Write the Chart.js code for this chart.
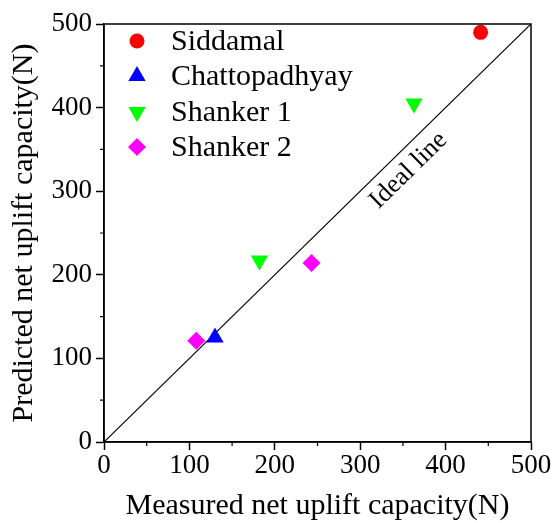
<!DOCTYPE html>
<html>
<head>
<meta charset="utf-8">
<script src="https://cdn.jsdelivr.net/npm/chart.js@4/dist/chart.umd.min.js"></script>
<style>
    html, body { margin: 0; padding: 0; background: #fff; }
    #wrap { width: 555px; height: 523px; }
</style>
</head>
<body>
<div id="wrap"><canvas id="capacityChart"></canvas></div>
<script>
// Measured vs predicted net uplift capacity (N)
const seriesNames = ['Siddamal', 'Chattopadhyay', 'Shanker 1', 'Shanker 2'];
const siddamalMeasured = [441];
const siddamalPredicted = [490];
const chattoMeasured = [130];
const chattoPredicted = [125];
const shanker1Measured = [182, 363];
const shanker1Predicted = [217, 405];
const shanker2Measured = [108, 243];
const shanker2Predicted = [121, 214];
const idealLine = [0, 500];
const axisTicks = [0, 100, 200, 300, 400, 500];

const SERIF = '"Liberation Serif", "Times New Roman", serif';

function toPoints(xs, ys) {
    return xs.map((x, i) => ({ x: x, y: ys[i] }));
}

// Minor ticks, top/right frame and the "Ideal line" label
const framePlugin = {
    id: 'frame',
    afterDraw(chart) {
        const { ctx, chartArea: a, scales: { x, y } } = chart;
        ctx.save();
        ctx.strokeStyle = '#000';
        ctx.lineWidth = 1.5;
        ctx.strokeRect(a.left, a.top, a.right - a.left, a.bottom - a.top);

        ctx.lineWidth = 1.2;
        ctx.beginPath();
        for (let v = 50; v < 500; v += 100) {
            const px = x.getPixelForValue(v);
            ctx.moveTo(px, a.bottom);
            ctx.lineTo(px, a.bottom + 4);
            const py = y.getPixelForValue(v);
            ctx.moveTo(a.left, py);
            ctx.lineTo(a.left - 4, py);
        }
        ctx.stroke();

        // label runs along the 1:1 line, just below it
        const lx = x.getPixelForValue(341);
        const ly = y.getPixelForValue(341);
        const ang = Math.atan2(y.getPixelForValue(500) - y.getPixelForValue(0),
                               x.getPixelForValue(500) - x.getPixelForValue(0));
        ctx.translate(lx, ly);
        ctx.rotate(ang);
        ctx.fillStyle = '#000';
        ctx.font = '26px ' + SERIF;
        ctx.textAlign = 'center';
        ctx.textBaseline = 'middle';
        ctx.fillText('Ideal line', 0, 19);
        ctx.restore();
    }
};

// Legend drawn inside the plot, top-left corner
const legendPlugin = {
    id: 'innerLegend',
    afterDraw(chart) {
        const { ctx } = chart;
        const rows = [41, 76, 112, 147];
        ctx.save();
        ctx.font = '30px ' + SERIF;
        ctx.textBaseline = 'middle';
        chart.data.datasets.forEach((ds, i) => {
            if (!seriesNames.includes(ds.label)) return;
            const yPos = rows[i];
            ctx.fillStyle = ds.backgroundColor;
            ctx.strokeStyle = ds.backgroundColor;
            Chart.helpers.drawPoint(ctx, {
                pointStyle: ds.pointStyle,
                rotation: ds.rotation || 0,
                radius: ds.pointRadius,
                borderWidth: 0
            }, 137, yPos);
            ctx.fillStyle = '#000';
            ctx.fillText(ds.label, 171, yPos + 1);
        });
        ctx.restore();
    }
};

const ctx = document.getElementById('capacityChart').getContext('2d');

new Chart(ctx, {
    type: 'scatter',
    data: {
        datasets: [{
            label: seriesNames[0],
            data: toPoints(siddamalMeasured, siddamalPredicted),
            pointStyle: 'circle',
            pointRadius: 7.5,
            backgroundColor: '#ff0000',
            borderWidth: 0
        }, {
            label: seriesNames[1],
            data: toPoints(chattoMeasured, chattoPredicted),
            pointStyle: 'triangle',
            pointRadius: 10,
            backgroundColor: '#0000ff',
            borderWidth: 0
        }, {
            label: seriesNames[2],
            data: toPoints(shanker1Measured, shanker1Predicted),
            pointStyle: 'triangle',
            rotation: 180,
            pointRadius: 10,
            backgroundColor: '#00ff00',
            borderWidth: 0
        }, {
            label: seriesNames[3],
            data: toPoints(shanker2Measured, shanker2Predicted),
            pointStyle: 'rectRot',
            pointRadius: 9,
            backgroundColor: '#ff00ff',
            borderWidth: 0
        }, {
            label: 'ideal',
            type: 'line',
            data: toPoints(idealLine, idealLine),
            borderColor: '#000',
            borderWidth: 1.2,
            pointRadius: 0,
            order: 10
        }]
    },
    options: {
        responsive: true,
        maintainAspectRatio: false,
        animation: false,
        layout: { padding: { top: 24, right: 24, left: 0, bottom: 0 } },
        plugins: {
            legend: { display: false },
            tooltip: { enabled: false }
        },
        scales: {
            x: {
                type: 'linear',
                min: 0,
                max: 500,
                afterBuildTicks: scale => { scale.ticks = axisTicks.map(v => ({ value: v })); },
                afterFit: scale => { scale.height = 81; },
                grid: { drawOnChartArea: false, tickLength: 8, tickColor: '#000', tickWidth: 1.5 },
                border: { color: '#000', width: 1.5 },
                ticks: { color: '#000', padding: 0, maxRotation: 0, font: { family: SERIF, size: 27 } },
                title: {
                    display: true,
                    text: 'Measured net uplift capacity(N)',
                    color: '#000',
                    font: { family: SERIF, size: 30 },
                    padding: { top: 0, bottom: -1 }
                }
            },
            y: {
                type: 'linear',
                min: 0,
                max: 500,
                afterBuildTicks: scale => { scale.ticks = axisTicks.map(v => ({ value: v })); },
                afterFit: scale => { scale.width = 104; },
                grid: { drawOnChartArea: false, tickLength: 8, tickColor: '#000', tickWidth: 1.5 },
                border: { color: '#000', width: 1.5 },
                ticks: { color: '#000', padding: 4, font: { family: SERIF, size: 27 } },
                title: {
                    display: true,
                    text: 'Predicted net uplift capacity(N)',
                    color: '#000',
                    font: { family: SERIF, size: 30 },
                    padding: { top: 6, bottom: 0 }
                }
            }
        }
    },
    plugins: [framePlugin, legendPlugin]
});
</script>
</body>
</html>
